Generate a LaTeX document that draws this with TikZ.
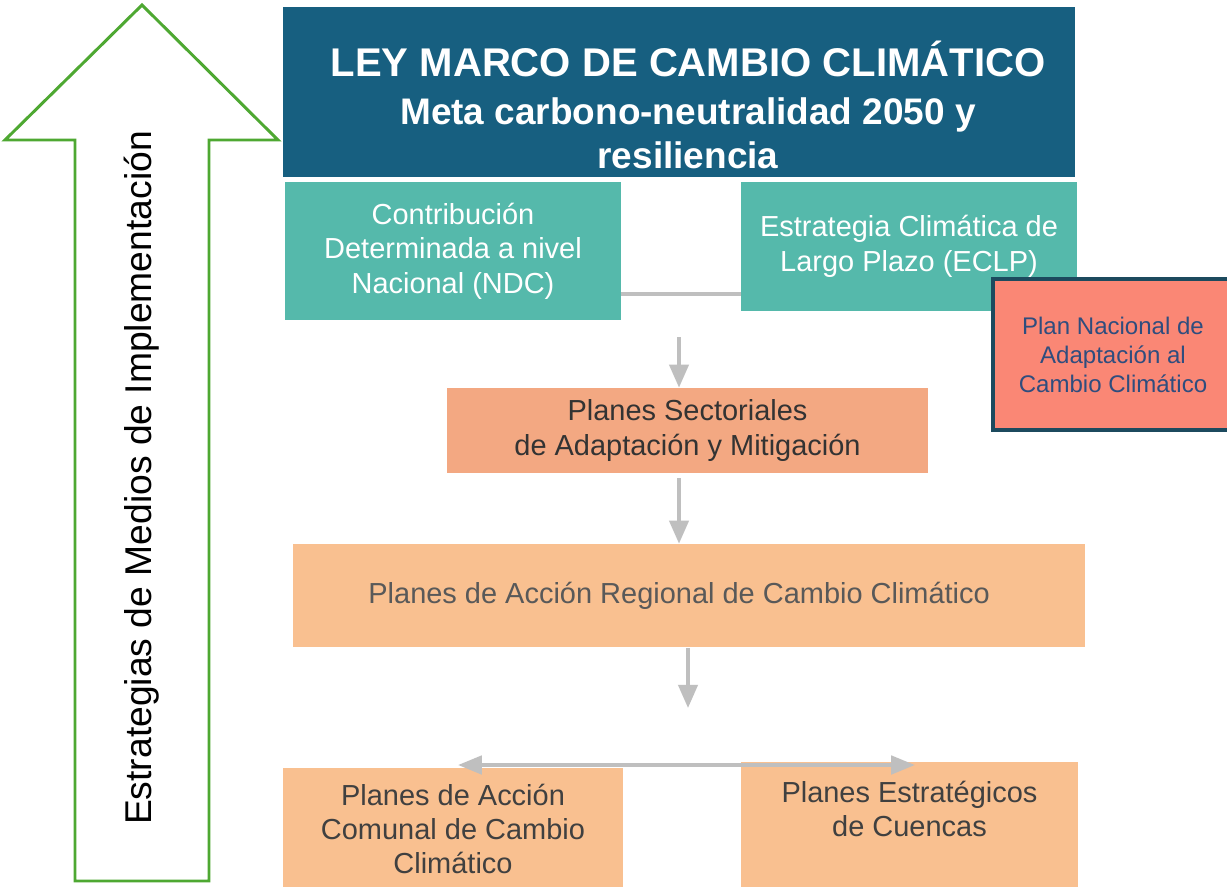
\documentclass[tikz,border=0pt]{standalone}
\usepackage{fontspec}
\setmainfont{Liberation Sans}
\usetikzlibrary{arrows.meta,positioning}
\definecolor{ocean}{HTML}{175F80}
\definecolor{teal}{HTML}{55B9AB}
\definecolor{salmon}{HTML}{FA8775}
\definecolor{navy}{HTML}{1C4A5E}
\definecolor{ink}{HTML}{2F4D7E}
\definecolor{apricot}{HTML}{F3A882}
\definecolor{peach}{HTML}{F9C090}
\definecolor{steel}{HTML}{BFBFBF}
\definecolor{leaf}{HTML}{4EA832}
\newcommand{\bodyfont}{\fontsize{20.6}{24.5}\selectfont}

\tikzset{
  box/.style={rectangle,inner sep=0pt,align=center,font=\bodyfont},
  tealbox/.style={box,fill=teal,text=white},
  flow/.style={steel,line width=2.85pt,-{Triangle[width=13.5pt,length=16.4pt]}},
  link/.style={steel,line width=2.85pt}
}

\begin{document}
\begin{tikzpicture}[x=0.025cm,y=-0.025cm]
\useasboundingbox[fill=white] (0,0) rectangle (1227,886);
% green arrow on the left
\draw[leaf,line width=2.1pt,line join=miter] (142,5)--(278,140)--(209,140)--(209,881)--(75,881)--(75,140)--(5,140)--cycle;
\node[rotate=90,font=\fontsize{26.5}{30}\selectfont] (side) at (142,478) {Estrategias de Medios de Implementación};

% top: the law
\node[box,fill=ocean,text=white,font={\bfseries\fontsize{26.3}{31.3}\selectfont},minimum width=19.8cm,minimum height=4.25cm] (ley) at (679,92)
  {\mbox{}\\[12pt]
   \hspace*{12.8pt}{\fontsize{28.5}{34}\selectfont LEY MARCO DE CAMBIO CLIMÁTICO}\\[3pt]
   \hspace*{12.8pt}Meta carbono-neutralidad 2050 y\\
   \hspace*{12.8pt}resiliencia};

\node[tealbox,minimum width=8.4cm,minimum height=3.45cm] (ndc) at (453,251)
  {Contribución\\Determinada a nivel\\Nacional (NDC)};
\node[tealbox,minimum width=8.4cm,minimum height=3.225cm] (eclp) at (909,246.5)
  {Estrategia Climática de\\Largo Plazo (ECLP)};
\node[box,fill=salmon,draw=navy,line width=2.85pt,text=ink,font=\fontsize{17.1}{20.6}\selectfont,
  minimum width=6cm,minimum height=3.775cm] (pnacc) at (1113,354.5)
  {Plan Nacional de\\Adaptación al\\Cambio Climático};

\node[box,fill=apricot,text=black!80,minimum width=12.025cm,minimum height=2.125cm] (sect) at (687.5,430.5)
  {Planes Sectoriales\\de Adaptación y Mitigación};
\node[box,fill=peach,text=black!65,minimum width=19.8cm,minimum height=2.575cm] (region) at (689,595.5)
  {Planes de Acción Regional de Cambio Climático\hspace*{14pt}};

\node[box,fill=peach,text=black!75,minimum width=8.5cm,minimum height=3.05cm] (comuna) at (453,829)
  {Planes de Acción\\Comunal de Cambio\\Climático};
\node[box,fill=peach,text=black!75,minimum width=8.425cm,minimum height=3.2cm] (cuenca) at (909.5,826)
  {Planes Estratégicos\\de Cuencas\\\mbox{}};

% connectors
\coordinate (linky) at (680,294);
\draw[link] (ndc.east |- linky) -- (eclp.west |- linky);
\coordinate (a1) at (679,337);
\draw[flow] (a1) -- (a1 |- sect.north);
\coordinate (a2) at (679,478);
\draw[flow] (a2) -- (a2 |- region.north);
\coordinate (a3) at (688,648);
\coordinate (a3end) at (688,708);
\draw[flow] (a3) -- (a3end);
\coordinate (left) at (458,765);
\coordinate (right) at (915,765);
\draw[flow,{Triangle[width=13pt,length=17pt]}-{Triangle[width=13pt,length=17pt]}] (left) -- (right);
\end{tikzpicture}
\end{document}
